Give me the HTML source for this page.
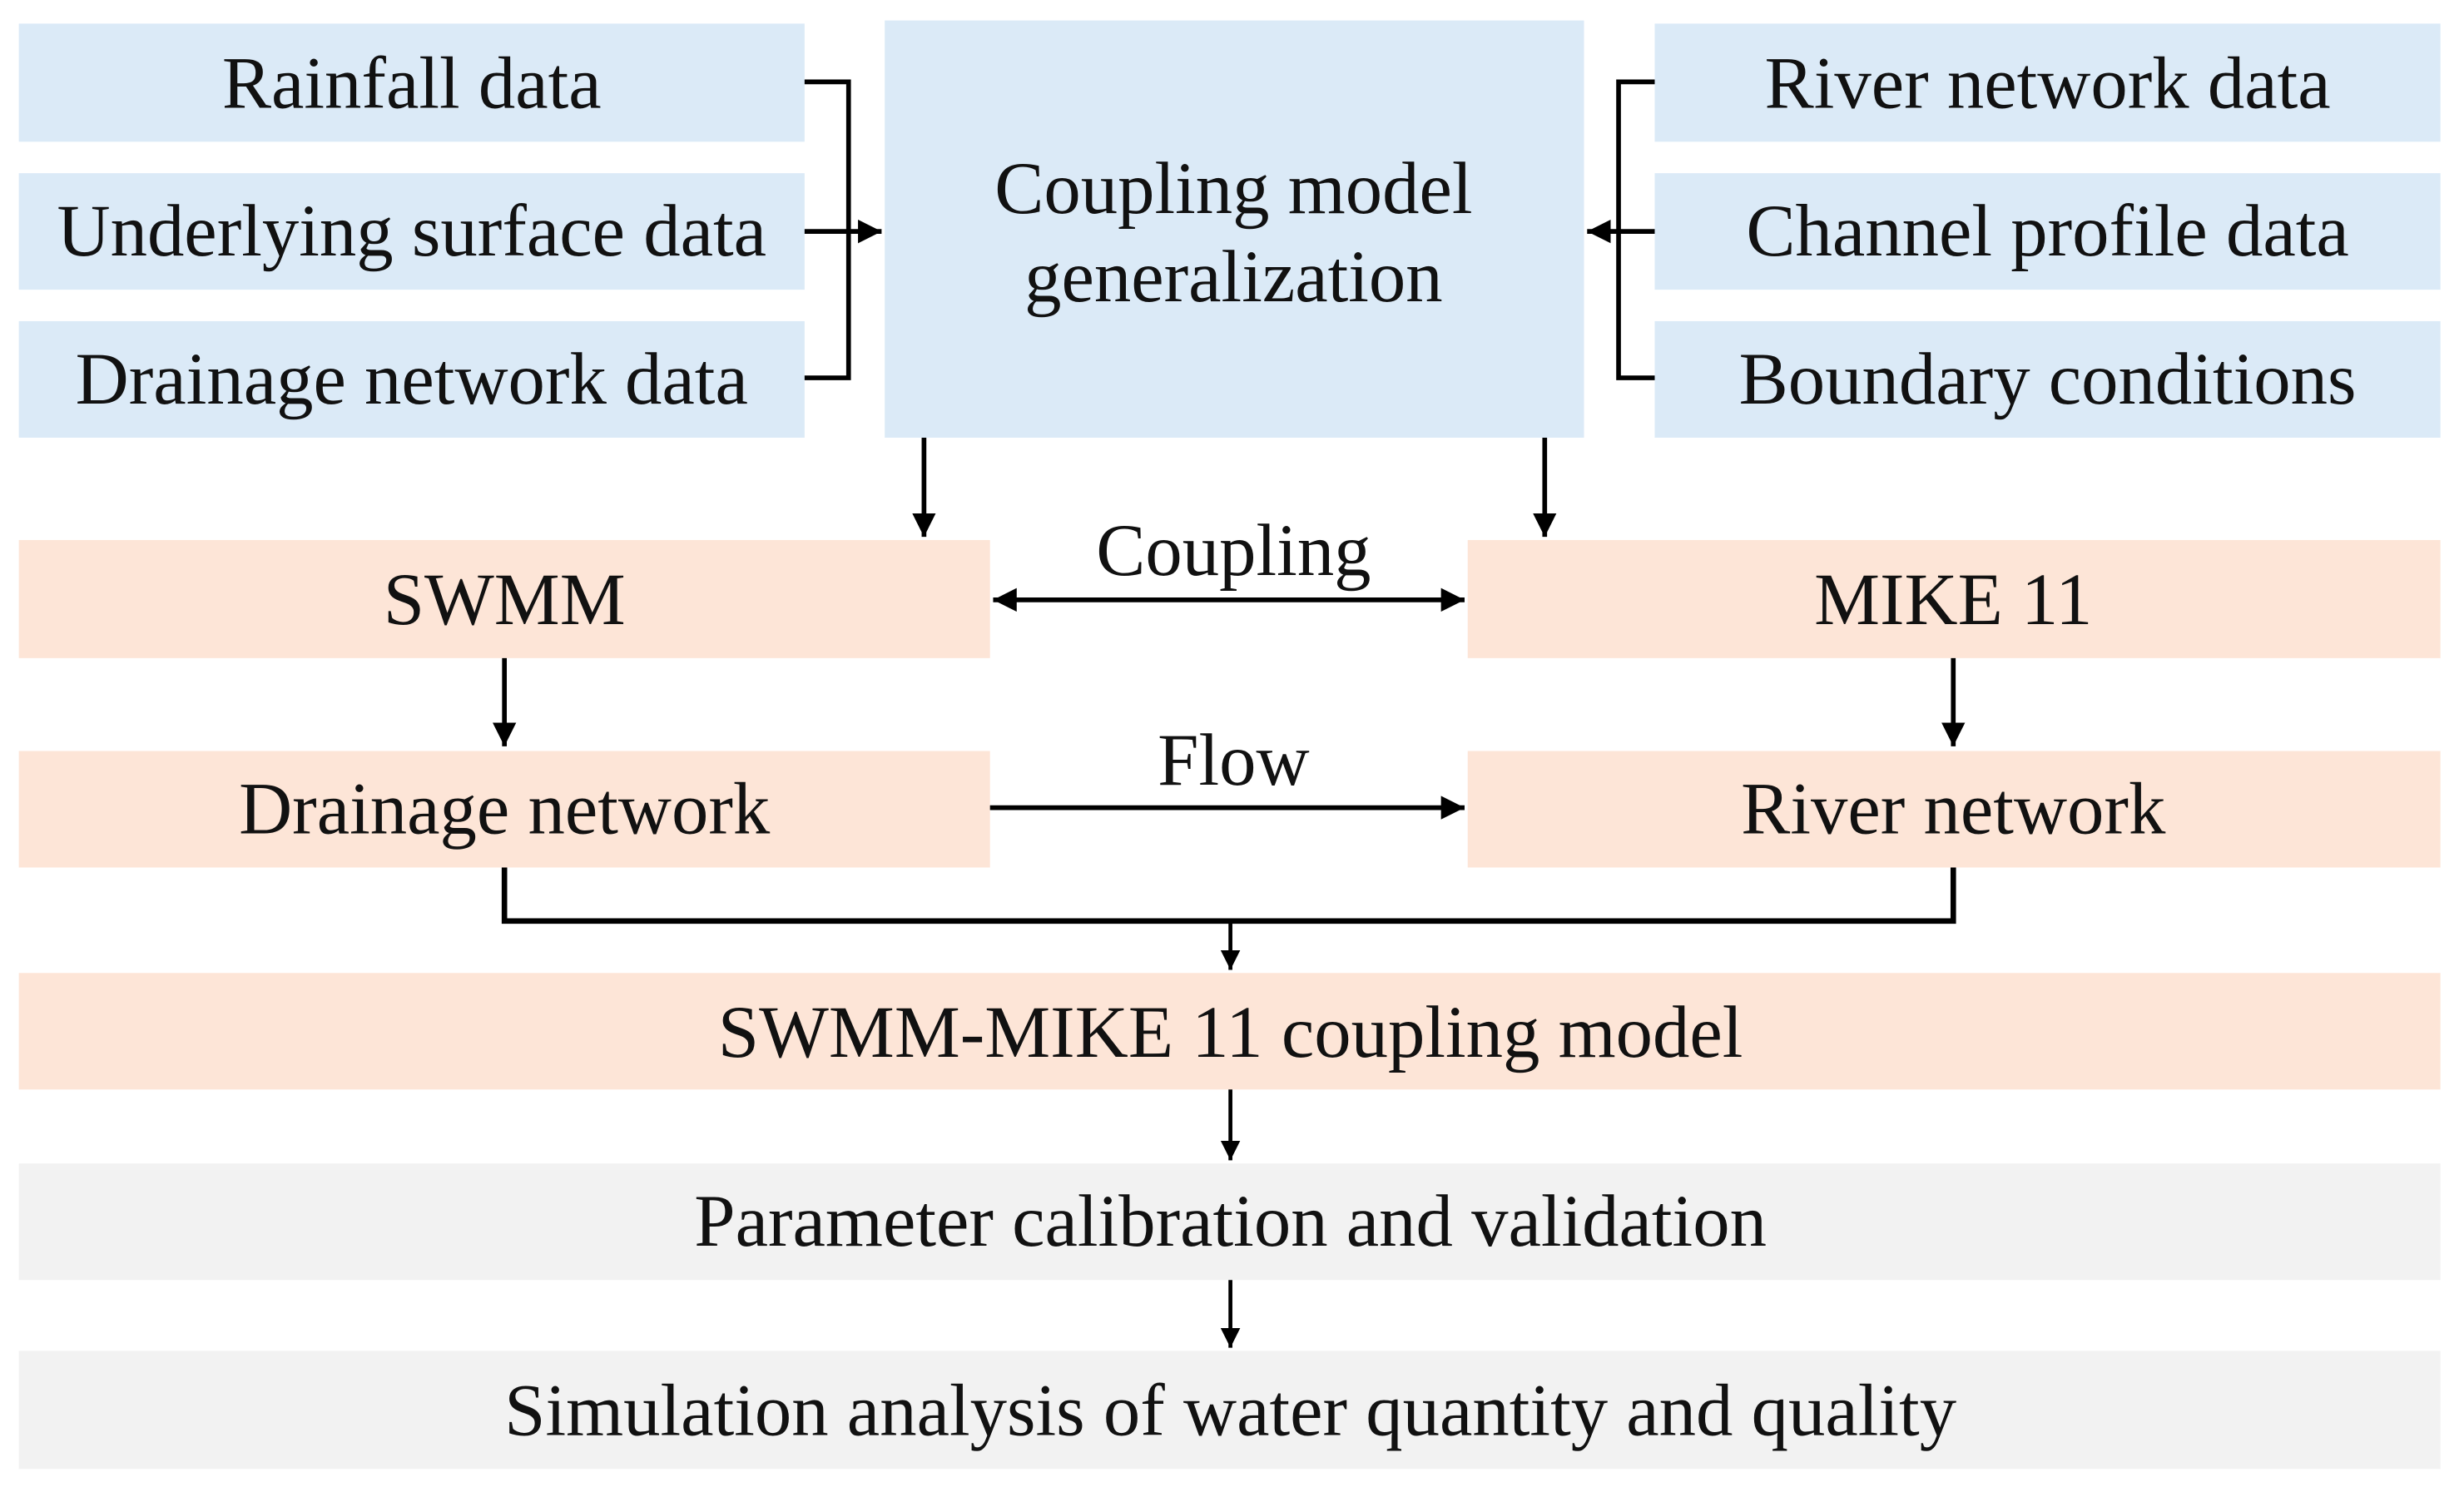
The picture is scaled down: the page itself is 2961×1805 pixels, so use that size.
<!DOCTYPE html>
<html><head><meta charset="utf-8"><style>
html,body{margin:0;padding:0;background:#fff;}
svg{display:block;}
text{font-family:"Liberation Serif",serif;font-size:47px;fill:#111;text-anchor:middle;dominant-baseline:central;}
</style></head><body>
<svg width="2961" height="1805" viewBox="0 0 1568 954" preserveAspectRatio="none" xmlns="http://www.w3.org/2000/svg">
<defs>
<marker id="a" viewBox="0 0 10 10" refX="10" refY="5" markerWidth="5" markerHeight="5" orient="auto-start-reverse" markerUnits="strokeWidth"><path d="M0,0 L10,5 L0,10 z" fill="#000"/></marker>
</defs>
<g fill="#dbeaf7">
<rect x="12" y="15" width="500" height="75"/>
<rect x="12" y="110" width="500" height="74"/>
<rect x="12" y="204" width="500" height="74"/>
<rect x="563" y="13" width="445" height="265"/>
<rect x="1053" y="15" width="500" height="75"/>
<rect x="1053" y="110" width="500" height="74"/>
<rect x="1053" y="204" width="500" height="74"/>
</g>
<g fill="#fde5d7">
<rect x="12" y="343" width="618" height="75"/>
<rect x="934" y="343" width="619" height="75"/>
<rect x="12" y="477" width="618" height="74"/>
<rect x="934" y="477" width="619" height="74"/>
<rect x="12" y="618" width="1541" height="74"/>
</g>
<g fill="#f2f2f2">
<rect x="12" y="739" width="1541" height="74"/>
<rect x="12" y="858" width="1541" height="75"/>
</g>
<g stroke="#000" stroke-width="3" fill="none">
<polyline points="512,52 540,52 540,240 512,240"/>
<line x1="512" y1="147" x2="561" y2="147" marker-end="url(#a)"/>
<polyline points="1053,52 1030,52 1030,240 1053,240"/>
<line x1="1053" y1="147" x2="1010" y2="147" marker-end="url(#a)"/>
<line x1="588" y1="278" x2="588" y2="341" marker-end="url(#a)"/>
<line x1="983" y1="278" x2="983" y2="341" marker-end="url(#a)"/>
<line x1="632" y1="381" x2="932" y2="381" marker-start="url(#a)" marker-end="url(#a)"/>
<line x1="321" y1="418" x2="321" y2="474" marker-end="url(#a)"/>
<line x1="1243" y1="418" x2="1243" y2="474" marker-end="url(#a)"/>
<line x1="630" y1="513" x2="932" y2="513" marker-end="url(#a)"/>
<polyline points="321,551 321,585 1243,585 1243,551" stroke-width="3.5"/>
<line x1="783" y1="585" x2="783" y2="616" stroke-width="2.5" marker-end="url(#a)"/>
<line x1="783" y1="692" x2="783" y2="737" stroke-width="2.5" marker-end="url(#a)"/>
<line x1="783" y1="813" x2="783" y2="856" stroke-width="2.5" marker-end="url(#a)"/>
</g>
<text x="262" y="53">Rainfall data</text>
<text x="262" y="147">Underlying surface data</text>
<text x="262" y="241">Drainage network data</text>
<text x="785" y="120">Coupling model</text>
<text x="785" y="176">generalization</text>
<text x="1303" y="53">River network data</text>
<text x="1303" y="147">Channel profile data</text>
<text x="1303" y="241">Boundary conditions</text>
<text x="785" y="350">Coupling</text>
<text x="321" y="381">SWMM</text>
<text x="1243" y="381">MIKE 11</text>
<text x="785" y="483">Flow</text>
<text x="321" y="514">Drainage network</text>
<text x="1243" y="514">River network</text>
<text x="783" y="656">SWMM-MIKE 11 coupling model</text>
<text x="783" y="776">Parameter calibration and validation</text>
<text x="783" y="896">Simulation analysis of water quantity and quality</text>
</svg>
</body></html>
